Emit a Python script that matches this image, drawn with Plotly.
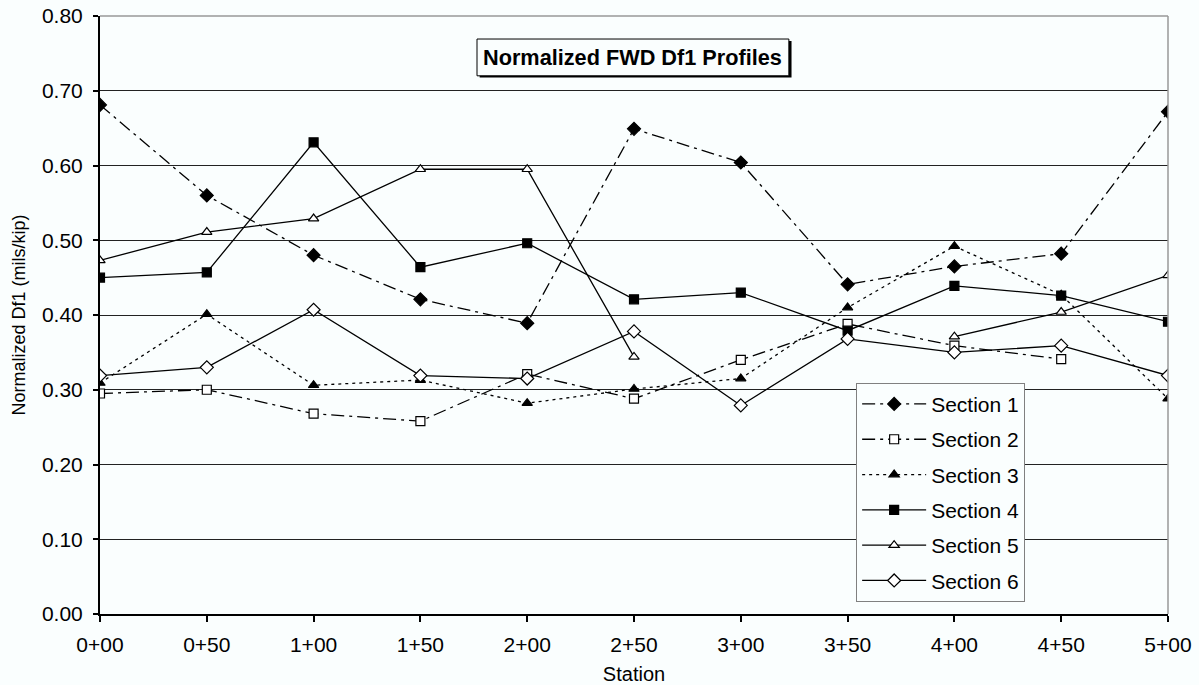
import plotly.graph_objects as go

# Station labels along the profile
stations = ["0+00", "0+50", "1+00", "1+50", "2+00", "2+50",
            "3+00", "3+50", "4+00", "4+50", "5+00"]

# Normalized Df1 deflection (mils/kip) per section
section_1 = [0.681, 0.560, 0.480, 0.421, 0.389, 0.649, 0.604, 0.441, 0.465, 0.482, 0.672]
section_2 = [0.295, 0.300, 0.268, 0.258, 0.321, 0.288, 0.340, 0.388, 0.359, 0.341, None]
section_3 = [0.309, 0.401, 0.306, 0.313, 0.282, 0.301, 0.315, 0.410, 0.492, 0.427, 0.288]
section_4 = [0.450, 0.457, 0.631, 0.464, 0.496, 0.421, 0.430, 0.379, 0.439, 0.426, 0.391]
section_5 = [0.473, 0.511, 0.529, 0.595, 0.595, 0.344, None, None, 0.371, 0.404, 0.453]
section_6 = [0.319, 0.330, 0.407, 0.319, 0.315, 0.378, 0.279, 0.368, 0.350, 0.359, 0.319]

y_ticks = [0.0, 0.1, 0.2, 0.3, 0.4, 0.5, 0.6, 0.7, 0.8]

BG = "#FAFEFE"
FONT = "Arial, Liberation Sans, sans-serif"

series = [
    ("Section 1", section_1, "diamond", "black", "13px,5px,3px,5px"),
    ("Section 2", section_2, "square", "white", "13px,5px,3px,5px"),
    ("Section 3", section_3, "triangle-up", "black", "3px,4px"),
    ("Section 4", section_4, "square", "black", "solid"),
    ("Section 5", section_5, "triangle-up", "white", "solid"),
    ("Section 6", section_6, "diamond", "white", "solid"),
]

fig = go.Figure()
for name, vals, sym, fill, dash in series:
    fig.add_trace(go.Scatter(
        x=stations, y=vals, name=name, mode="lines+markers",
        connectgaps=False, legendgroup=name,
        line=dict(color="black", width=1.3, dash=dash),
        marker=dict(symbol=sym, size=9 if sym != "diamond" else 10,
                    color=fill, line=dict(color="black", width=1.2)),
    ))

# Boxed chart heading with a drop shadow
fig.add_shape(type="rect", xref="paper", yref="paper",
              x0=0.3555, x1=0.6475, y0=0.897, y1=0.958,
              fillcolor="black", line=dict(width=0), layer="above")
fig.add_shape(type="rect", xref="paper", yref="paper",
              x0=0.353, x1=0.645, y0=0.900, y1=0.9615,
              fillcolor=BG, line=dict(color="black", width=1), layer="above")
fig.add_annotation(text="<b>Normalized FWD Df1 Profiles</b>",
                   xref="paper", yref="paper", x=0.499, y=0.931,
                   xanchor="center", yanchor="middle",
                   showarrow=False, font=dict(family=FONT, size=21.7, color="black"))

fig.update_layout(
    width=1199, height=685,
    margin=dict(l=100, r=31, t=16, b=71, autoexpand=False),
    paper_bgcolor=BG, plot_bgcolor=BG,
    font=dict(family=FONT, color="black"),
    showlegend=True,
    legend=dict(
        x=0.708, y=0.3866, xanchor="left", yanchor="top",
        bgcolor=BG, bordercolor="#808080", borderwidth=1,
        font=dict(family=FONT, size=21, color="black"),
        itemwidth=64, tracegroupgap=5,
    ),
)

fig.update_xaxes(
    type="category", range=[0, 10], automargin=False,
    showline=True, linecolor="black", linewidth=2,
    ticks="outside", ticklen=6, tickcolor="black", tickwidth=1.5,
    tickfont=dict(family=FONT, size=21, color="black"),
    ticklabelstandoff=5,
    showgrid=False, zeroline=False,
    title=dict(text="Station", font=dict(family=FONT, size=20, color="black"), standoff=14),
    mirror=False,
)
fig.update_yaxes(
    range=[0, 0.8], tickvals=y_ticks, tickformat=".2f", automargin=False,
    showline=True, linecolor="black", linewidth=2,
    ticks="outside", ticklen=5, tickcolor="black", tickwidth=1.5,
    tickfont=dict(family=FONT, size=21, color="black"),
    ticklabelstandoff=6,
    showgrid=True, gridcolor="#222222", gridwidth=1,
    zeroline=False,
    title=dict(text="Normalized Df1 (mils/kip)", font=dict(family=FONT, size=18, color="black"), standoff=12),
)

# Light grey frame on the top and right of the plot area
fig.add_shape(type="line", xref="paper", yref="paper", x0=0, x1=1, y0=1, y1=1,
              line=dict(color="#999999", width=1.5))
fig.add_shape(type="line", xref="paper", yref="paper", x0=1, x1=1, y0=0, y1=1,
              line=dict(color="#999999", width=1.5))

fig.write_html("out.html")
